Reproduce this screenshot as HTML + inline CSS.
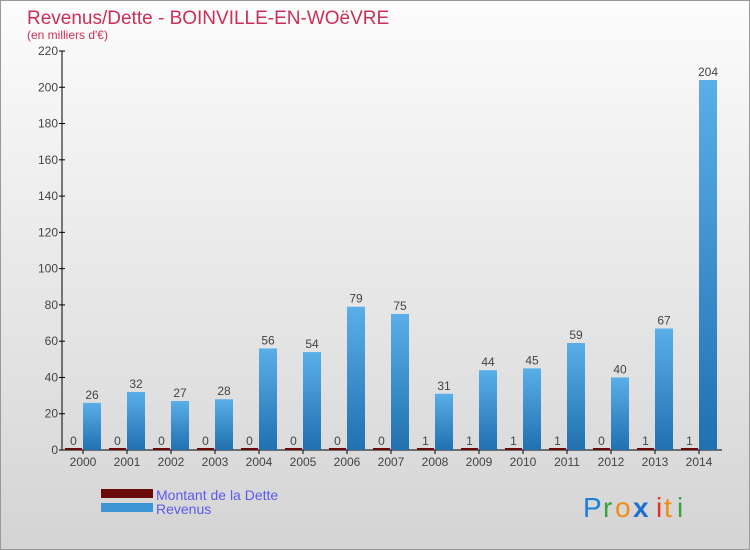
<!DOCTYPE html>
<html><head><meta charset="utf-8"><style>
body{margin:0;width:750px;height:550px;overflow:hidden;font-family:"Liberation Sans",sans-serif}
#wrap{position:relative;width:748px;height:548px;border:1px solid #999;background:linear-gradient(#fcfcfc,#d4d4d4)}
</style></head><body>
<div id="wrap">
<svg id="chart" width="748" height="548" style="position:absolute;left:0;top:0">
<defs><linearGradient id="bg" x1="0" y1="0" x2="0" y2="1"><stop offset="0" stop-color="#5aafe8"/><stop offset="1" stop-color="#2170b0"/></linearGradient></defs>
<text x="26" y="23" font-size="19" fill="#c8305a">Revenus/Dette - BOINVILLE-EN-WOëVRE</text>
<text x="26" y="38" font-size="12" fill="#c8305a">(en milliers d'€)</text>
<g id="axes"></g><g id="bars"></g>
<rect x="100" y="488" width="52" height="9" fill="#6b0a0a"/>
<rect x="100" y="502" width="52" height="9" fill="#3d95d6"/>
<text x="155" y="499" font-size="14" fill="#5a5aee">Montant de la Dette</text>
<text x="155" y="513" font-size="14" fill="#5a5aee">Revenus</text>
<g font-size="28" font-family="'Liberation Sans',sans-serif">
<text x="582" y="516" fill="#1e7fd6">P</text><text x="602" y="516" fill="#3aa23a">r</text><text x="614" y="516" fill="#f08c10">o</text><text x="632" y="516" fill="#1e6fd0" font-weight="bold">x</text><text x="655" y="516" fill="#e83020">i</text><text x="663" y="516" fill="#f08c10">t</text><text x="676" y="516" fill="#3aa23a">i</text>
</g>
</svg>
</div>
<script>
const years=["2000","2001","2002","2003","2004","2005","2006","2007","2008","2009","2010","2011","2012","2013","2014"];
const dette=[0,0,0,0,0,0,0,0,1,1,1,1,0,1,1];
const revenus=[26,32,27,28,56,54,79,75,31,44,45,59,40,67,204];
const yTicks=[0,20,40,60,80,100,120,140,160,180,200,220];
const NS="http://www.w3.org/2000/svg";
const y0=449,yMax=220,yTop=50;
function yS(v){return y0-(y0-yTop)*v/yMax;}
function xS(i){return 64+44*i;}
function mk(t,a,p){const e=document.createElementNS(NS,t);for(const k in a)e.setAttribute(k,a[k]);p.appendChild(e);return e;}
const ax=document.getElementById('axes'),bars=document.getElementById('bars');
const yl=mk('line',{x1:61,y1:yTop,x2:61,y2:y0,stroke:'#000'},ax);


const xl=mk('line',{x1:61,y1:y0,x2:721,y2:y0,stroke:'#000'},ax);


yTicks.forEach(v=>{const y=yS(v);
mk('line',{x1:58,y1:y,x2:64,y2:y,stroke:'#000'},ax);
const t=mk('text',{x:57,y:y+4,'font-size':12,fill:'#444','text-anchor':'end'},ax);t.textContent=v;

});
years.forEach((yr,i)=>{const x=xS(i);
mk('line',{x1:x+18,y1:y0,x2:x+18,y2:y0+4,stroke:'#000'},ax);
const t=mk('text',{x:x+18,y:y0+16,'font-size':12,fill:'#444','text-anchor':'middle'},ax);t.textContent=yr;


const dh=Math.max(2,y0-yS(dette[i]));
const r=mk('rect',{x:x,y:y0-dh,width:17,height:dh,fill:'#6b0a0a'},bars);


const dl=mk('text',{x:x+8.5,y:y0-5,'font-size':12,fill:'#444','text-anchor':'middle'},bars);dl.textContent=dette[i];


const ry=yS(revenus[i]);
const b=mk('rect',{x:x+18,y:ry,width:18,height:y0-ry,fill:'url(#bg)'},bars);


const rl=mk('text',{x:x+27,y:ry-4,'font-size':12,fill:'#444','text-anchor':'middle'},bars);rl.textContent=revenus[i];

});
</script>
</body></html>
